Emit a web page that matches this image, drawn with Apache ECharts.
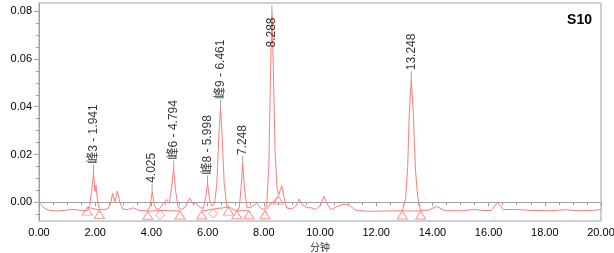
<!DOCTYPE html>
<html>
<head>
<meta charset="utf-8">
<script src="https://cdn.jsdelivr.net/npm/echarts@6/dist/echarts.min.js"></script>
<style>
html, body { margin: 0; padding: 0; background: #fff; }
#chart { width: 614px; height: 253px; }
</style>
</head>
<body>
<div id="chart"></div>
<script>
// chromatogram trace (minutes, AU)
var time = [0.00, 0.10, 0.20, 0.35, 0.60, 0.90, 1.15, 1.40, 1.60, 1.72, 1.80, 1.87, 1.94, 1.99, 2.03, 2.08,
    2.15, 2.30, 2.45, 2.55, 2.62, 2.70, 2.79, 2.88, 2.98, 3.15, 3.35, 3.55, 3.85, 3.95, 4.03, 4.10,
    4.20, 4.30, 4.42, 4.54, 4.63, 4.72, 4.79, 4.86, 4.95, 5.08, 5.20, 5.30, 5.37, 5.47, 5.59, 5.73,
    5.85, 5.93, 6.00, 6.07, 6.15, 6.25, 6.33, 6.40, 6.46, 6.52, 6.59, 6.68, 6.85, 7.04, 7.13, 7.19,
    7.25, 7.31, 7.40, 7.55, 7.75, 7.90, 8.00, 8.10, 8.18, 8.24, 8.29, 8.34, 8.40, 8.47, 8.53, 8.64,
    8.72, 8.82, 9.00, 9.15, 9.26, 9.37, 9.53, 9.70, 9.85, 10.00, 10.14, 10.27, 10.40, 10.60, 10.85, 11.05,
    11.25, 11.60, 12.00, 12.50, 12.93, 13.05, 13.12, 13.18, 13.25, 13.32, 13.40, 13.48, 13.58, 13.85, 14.15, 14.45,
    15.00, 15.52, 15.80, 16.10, 16.32, 16.52, 17.05, 17.50, 18.20, 18.74, 19.20, 19.70, 20.00];
var au = [0.0000, -0.0012, -0.0025, -0.0033, -0.0036, -0.0034, -0.0029, -0.0032, -0.0035, -0.0033, -0.0015, 0.0045, 0.0124, 0.0045, 0.0072, 0.0010,
    -0.0030, -0.0030, -0.0027, -0.0005, 0.0038, 0.0003, 0.0047, 0.0000, -0.0028, -0.0030, -0.0023, -0.0033, -0.0036, -0.0015, 0.0044, -0.0010,
    -0.0030, -0.0025, -0.0005, 0.0012, -0.0004, 0.0060, 0.0142, 0.0050, -0.0020, -0.0030, -0.0020, 0.0005, 0.0017, -0.0004, -0.0002, -0.0022,
    -0.0025, 0.0020, 0.0079, 0.0010, -0.0015, -0.0005, 0.0080, 0.0280, 0.0395, 0.0270, 0.0080, -0.0015, -0.0025, -0.0038, -0.0020, 0.0060,
    0.0160, 0.0060, -0.0022, -0.0020, -0.0004, -0.0025, -0.0030, -0.0015, 0.0150, 0.0550, 0.0790, 0.0560, 0.0220, 0.0060, 0.0032, 0.0070,
    0.0020, -0.0024, -0.0027, -0.0015, 0.0014, -0.0010, -0.0022, -0.0023, -0.0030, -0.0015, 0.0025, -0.0010, -0.0030, -0.0018, -0.0007, -0.0012,
    -0.0032, -0.0037, -0.0037, -0.0036, -0.0035, 0.0020, 0.0150, 0.0380, 0.0515, 0.0370, 0.0130, 0.0020, -0.0034, -0.0033, -0.0017, -0.0035,
    -0.0035, -0.0030, -0.0034, -0.0034, 0.0000, -0.0030, -0.0030, -0.0034, -0.0035, -0.0031, -0.0035, -0.0034, -0.0030];

// labelled peaks
var peakTime = [1.941, 4.025, 4.794, 5.998, 6.461, 7.248, 8.288, 13.248];
var peakAu = [0.0124, 0.0044, 0.0142, 0.0079, 0.0395, 0.0160, 0.0790, 0.0515];
var peakLabel = ['峰3 - 1.941', '4.025', '峰6 - 4.794', '峰8 - 5.998', '峰9 - 6.461', '7.248', '8.288', '13.248'];

// integration marks (peak start / end)
var markTime = [1.72, 2.15, 3.87, 4.31, 5.02, 5.79, 6.20, 6.74, 7.04, 7.47, 8.04, 8.52, 12.93, 13.58];
var markAu = [-0.0020, -0.0033, -0.0037, -0.0034, -0.0036, -0.0036, -0.0028, -0.0020, -0.0035, -0.0035, -0.0035, 0.0026, -0.0036, -0.0036];
var markShape = ['t', 't', 't', 'd', 't', 't', 'd', 't', 't', 't', 't', 't', 't', 't'];
var baselineGroups = [[0, 1], [2, 3, 4], [5, 6, 7], [8, 9], [10, 11], [12, 13]];

var yTicks = [0, 0.02, 0.04, 0.06, 0.08];
var yMinorTicks = [-0.005, 0.005, 0.01, 0.015, 0.025, 0.03, 0.035, 0.045, 0.05, 0.055, 0.065, 0.07, 0.075];

var red = '#ff7b7b';
var font = "'Liberation Sans', Arial, 'Noto Sans CJK SC', sans-serif";

var trace = [];
for (var i = 0; i < time.length; i++) trace.push([time[i], au[i]]);

var baseline = [];
baselineGroups.forEach(function (g, gi) {
    if (gi > 0) baseline.push('-');
    g.forEach(function (k) { baseline.push([markTime[k], markAu[k]]); });
});

var triData = [], diaData = [];
for (var j = 0; j < markTime.length; j++) {
    if (markShape[j] == 't') triData.push([markTime[j], markAu[j]]);
    else diaData.push([markTime[j], markAu[j]]);
}

var peaks = [];
for (var p = 0; p < peakTime.length; p++) {
    var item = { value: [peakTime[p], peakAu[p]], name: peakLabel[p] };
    // the tallest peak has no room above it, label goes inside
    if (peakAu[p] > 0.07) {
        item.label = { position: 'bottom', distance: 34 };
    }
    peaks.push(item);
}

var chart = echarts.init(document.getElementById('chart'));
var option = {
    animation: false,
    backgroundColor: '#fff',
    textStyle: { fontFamily: font },
    title: {
        text: 'S10',
        right: 17,
        top: 8,
        textStyle: { fontSize: 14, fontWeight: 'bold', color: '#000', fontFamily: font }
    },
    grid: {
        left: 39, right: 13, top: 3, bottom: 32,
        outerBoundsMode: 'none',
        containLabel: false,
        show: true, borderColor: '#a0a0a0', borderWidth: 1
    },
    xAxis: {
        type: 'value',
        min: 0, max: 20, interval: 2,
        name: '分钟',
        nameLocation: 'middle',
        nameGap: 20,
        nameTextStyle: { fontSize: 10, color: '#333', fontFamily: font },
        axisLine: { lineStyle: { color: '#a0a0a0' } },
        axisTick: { length: 4, lineStyle: { color: '#a0a0a0' } },
        minorTick: { show: true, splitNumber: 4, length: 3, lineStyle: { color: '#a0a0a0' } },
        axisLabel: {
            color: '#000', fontSize: 11, margin: 6, fontFamily: font,
            formatter: function (v) { return v.toFixed(2); }
        },
        splitLine: { show: false }
    },
    yAxis: [{
        type: 'value',
        min: -0.0078, max: 0.0834,
        name: 'AU',
        nameLocation: 'middle',
        nameRotate: 90,
        nameGap: 31,
        nameTextStyle: { fontSize: 10, color: '#333', fontFamily: font },
        axisLine: { show: true, lineStyle: { color: '#a0a0a0' } },
        axisTick: { show: true, length: 5, customValues: yTicks, lineStyle: { color: '#a0a0a0' } },
        axisLabel: {
            color: '#000', fontSize: 11, margin: 7, fontFamily: font,
            customValues: yTicks,
            formatter: function (v) { return v.toFixed(2); }
        },
        splitLine: { show: false }
    }, {
        type: 'value',
        position: 'left',
        offset: 0,
        min: -0.0078, max: 0.0834,
        axisLine: { show: false },
        axisTick: { show: true, length: 3, customValues: yMinorTicks, lineStyle: { color: '#a0a0a0' } },
        axisLabel: { show: false },
        splitLine: { show: false }
    }],
    series: [
        {
            name: 'trace',
            type: 'line',
            data: trace,
            symbol: 'none',
            lineStyle: { color: red, width: 1 },
            z: 2
        },
        {
            name: 'baseline',
            type: 'line',
            data: baseline,
            connectNulls: false,
            symbol: 'none',
            lineStyle: { color: red, width: 1 },
            z: 2
        },
        {
            name: 'start/end',
            type: 'scatter',
            data: triData,
            symbol: 'triangle',
            symbolSize: [10, 8],
            symbolOffset: [0, '50%'],
            itemStyle: { color: 'rgba(255,255,255,0)', borderColor: red, borderWidth: 1 },
            z: 3
        },
        {
            name: 'drop',
            type: 'scatter',
            data: diaData,
            symbol: 'diamond',
            symbolSize: [9, 9],
            symbolOffset: [0, '50%'],
            itemStyle: { color: 'rgba(255,255,255,0)', borderColor: red, borderWidth: 1 },
            z: 3
        },
        {
            name: 'peaks',
            type: 'scatter',
            data: peaks,
            symbol: 'rect',
            symbolSize: [1, 8],
            symbolOffset: [0, -4],
            itemStyle: { color: '#888' },
            label: {
                show: true,
                position: 'top',
                distance: 1,
                rotate: 90,
                align: 'left',
                verticalAlign: 'middle',
                color: '#000',
                fontSize: 12,
                fontFamily: font,
                formatter: function (pr) { return pr.name; }
            },
            z: 4
        }
    ]
};
chart.setOption(option);
</script>
</body>
</html>
